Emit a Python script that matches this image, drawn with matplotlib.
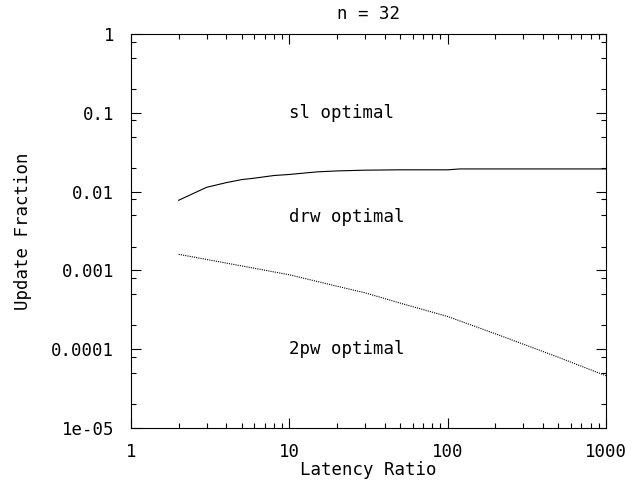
import matplotlib
matplotlib.use("Agg")
import matplotlib.pyplot as plt
from matplotlib.ticker import FixedLocator, FixedFormatter, NullFormatter

# boundary between sl and drw regions (solid)
sl_x = [2, 3, 4, 5, 6, 8, 10, 15, 20, 30, 50, 100, 120, 200, 500, 1000]
sl_y = [0.00776, 0.01133, 0.0130, 0.0142, 0.0148, 0.0160, 0.0165, 0.0178,
        0.0183, 0.0187, 0.0189, 0.0189, 0.0194, 0.0194, 0.0194, 0.0194]

# boundary between drw and 2pw regions (dotted)
pw_x = [2, 5, 10, 20, 30, 50, 100, 200, 300, 500, 1000]
pw_y = [1.6e-3, 1.14e-3, 8.8e-4, 6.3e-4, 5.2e-4, 3.85e-4, 2.6e-4,
        1.57e-4, 1.16e-4, 7.9e-5, 4.6e-5]

x_ticks = [1, 10, 100, 1000]
x_labels = ["1", "10", "100", "1000"]
y_ticks = [1e-5, 1e-4, 1e-3, 1e-2, 1e-1, 1]
y_labels = ["1e-05", "0.0001", "0.001", "0.01", "0.1", "1"]

region_labels = ["sl optimal", "drw optimal", "2pw optimal"]
region_y = [0.1, 0.0047, 1e-4]

font = "DejaVu Sans Mono"
fs = 12.5

fig = plt.figure(figsize=(6.44, 4.82), dpi=100)
ax = fig.add_axes([131 / 644, 1 - 428 / 482, 475 / 644, 394 / 482])

ax.plot(sl_x, sl_y, color="black", lw=0.8)
ax.plot(pw_x, pw_y, color="black", lw=0.8, linestyle=(0, (1, 1)))

ax.set_xscale("log")
ax.set_yscale("log")
ax.set_xlim(1, 1000)
ax.set_ylim(1e-5, 1)

ax.xaxis.set_major_locator(FixedLocator(x_ticks))
ax.xaxis.set_major_formatter(FixedFormatter(x_labels))
ax.xaxis.set_minor_locator(FixedLocator(
    [m * 10 ** d for d in range(3) for m in range(2, 10)]))
ax.xaxis.set_minor_formatter(NullFormatter())

ax.yaxis.set_major_locator(FixedLocator(y_ticks))
ax.yaxis.set_major_formatter(FixedFormatter(y_labels))
ax.yaxis.set_minor_locator(FixedLocator(
    [m * 10.0 ** d for d in range(-5, 0) for m in (2, 5, 8)]))
ax.yaxis.set_minor_formatter(NullFormatter())

ax.tick_params(which="both", direction="in", top=True, right=True,
               width=0.8, colors="black")
ax.tick_params(which="major", length=7.2)
ax.tick_params(which="minor", length=3.6)
ax.tick_params(axis="y", which="major", pad=12)
ax.tick_params(axis="x", which="major", pad=11)
for lab in ax.get_xticklabels() + ax.get_yticklabels():
    lab.set_fontfamily(font)
    lab.set_fontsize(fs)

for sp in ax.spines.values():
    sp.set_linewidth(0.8)

for txt, yv in zip(region_labels, region_y):
    ax.text(10, yv, txt, fontfamily=font, fontsize=fs,
            ha="left", va="center")

ax.set_title("n = 32", fontfamily=font, fontsize=fs, pad=11)
ax.set_xlabel("Latency Ratio", fontfamily=font, fontsize=fs, labelpad=0)
ax.set_ylabel("Update Fraction", fontfamily=font, fontsize=fs, labelpad=14)

fig.savefig("out.png", dpi=100)
